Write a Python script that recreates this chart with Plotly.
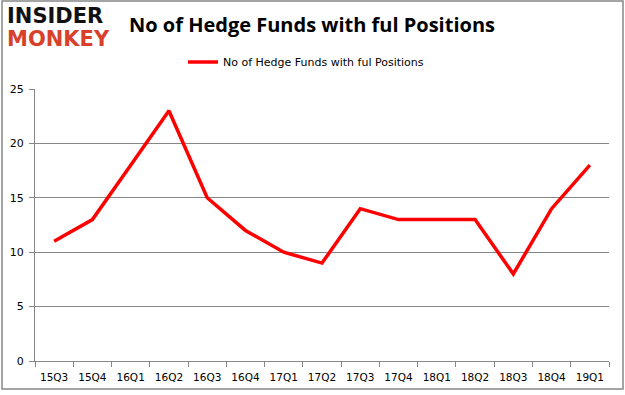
import plotly.graph_objects as go

quarters = ["15Q3", "15Q4", "16Q1", "16Q2", "16Q3", "16Q4", "17Q1", "17Q2",
            "17Q3", "17Q4", "18Q1", "18Q2", "18Q3", "18Q4", "19Q1"]
funds = [11, 13, 18, 23, 15, 12, 10, 9, 14, 13, 13, 13, 8, 14, 18]
series_name = "No of Hedge Funds with ful Positions"
title_text = "No of Hedge Funds with ful Positions"

W, H = 625, 395
L, R, T, B = 35, 16, 89, 34
PW, PH = W - L - R, H - T - B

fig = go.Figure()
fig.add_trace(go.Scatter(
    x=quarters, y=funds, mode="lines", name=series_name,
    line=dict(color="#FF0000", width=3.5),
))

fig.update_layout(
    width=W, height=H,
    margin=dict(l=L, r=R, t=T, b=B, autoexpand=False),
    paper_bgcolor="white", plot_bgcolor="white",
    showlegend=True,
    legend=dict(orientation="h", x=(306 - L) / PW, xanchor="center",
                y=1 + (T - 62) / PH, yanchor="middle",
                font=dict(family="DejaVu Sans", size=11, color="#000000"),
                itemwidth=30, bgcolor="rgba(0,0,0,0)"),
    title=dict(text=title_text, x=312 / W, xanchor="center", y=1 - 25 / H, yanchor="middle",
               font=dict(family="Open Sans", size=20, color="#000000", weight="bold")),
    font=dict(family="DejaVu Sans", size=11, color="#000000"),
)

fig.update_xaxes(
    type="category", range=[-0.5, len(quarters) - 0.5],
    showline=True, linecolor="#868686", linewidth=1,
    ticks="outside", ticklen=5, tickcolor="#868686",
    tickson="boundaries", showgrid=False, ticklabelstandoff=6,
    tickfont=dict(family="DejaVu Sans", size=10.5, color="#000000"),
)
fig.update_yaxes(
    range=[0, 25], dtick=5,
    showline=True, linecolor="#868686", linewidth=1,
    ticks="outside", ticklen=5, tickcolor="#868686",
    showgrid=True, gridcolor="#868686", gridwidth=1,
    zeroline=False, ticklabelstandoff=3,
    tickfont=dict(family="DejaVu Sans", size=11, color="#000000"),
)

# outer border
fig.add_shape(type="rect", xref="paper", yref="paper",
              x0=(2 - L) / PW, x1=(623 - L) / PW,
              y0=1 - (389 - T) / PH, y1=1 + (T - 1) / PH,
              line=dict(color="#868686", width=1.5), fillcolor="rgba(0,0,0,0)")

# logo
fig.add_annotation(text="INSIDER", xref="paper", yref="paper",
                   x=(5 - L) / PW, xanchor="left",
                   y=1 + (T - 16) / PH, yanchor="middle",
                   showarrow=False,
                   font=dict(family="DejaVu Sans", size=21, color="#111111", weight="bold"))
fig.add_annotation(text="MONKEY", xref="paper", yref="paper",
                   x=(5 - L) / PW, xanchor="left",
                   y=1 + (T - 39) / PH, yanchor="middle",
                   showarrow=False,
                   font=dict(family="DejaVu Sans", size=21, color="#D9402B", weight="bold"))

fig.write_html("out.html", config={"displayModeBar": False},
               post_script="document.body.style.margin='0';document.body.style.overflow='hidden';")
